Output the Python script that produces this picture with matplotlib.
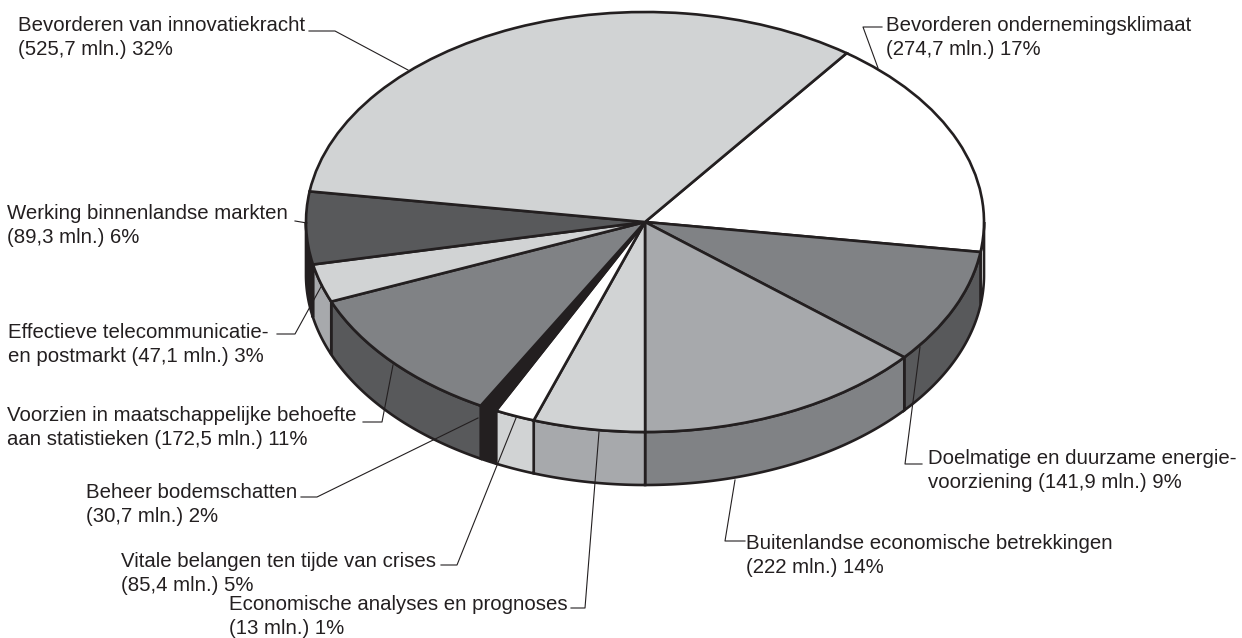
import matplotlib
matplotlib.use('Agg')
import matplotlib.pyplot as plt
import numpy as np

plt.rcParams['font.family'] = ['Liberation Sans', 'DejaVu Sans']

# slices clockwise, as they sit in the pie
values = [274.7, 141.9, 222, 85.4, 30.7, 13, 172.5, 47.1, 89.3, 525.7]
top_colors = ['#ffffff', '#808285', '#a7a9ac', '#d1d3d4', '#ffffff',
              '#231f20', '#808285', '#d1d3d4', '#58595b', '#d1d3d4']
side_colors = ['#ffffff', '#58595b', '#808285', '#a7a9ac', '#d1d3d4',
               '#231f20', '#58595b', '#a7a9ac', '#231f20', '#d1d3d4']

labels = ['Bevorderen van innovatiekracht\n(525,7 mln.) 32%',
          'Bevorderen ondernemingsklimaat\n(274,7 mln.) 17%',
          'Werking binnenlandse markten\n(89,3 mln.) 6%',
          'Effectieve telecommunicatie-\nen postmarkt (47,1 mln.) 3%',
          'Voorzien in maatschappelijke behoefte\naan statistieken (172,5 mln.) 11%',
          'Beheer bodemschatten\n(30,7 mln.) 2%',
          'Vitale belangen ten tijde van crises\n(85,4 mln.) 5%',
          'Economische analyses en prognoses\n(13 mln.) 1%',
          'Buitenlandse economische betrekkingen\n(222 mln.) 14%',
          'Doelmatige en duurzame energie-\nvoorziening (141,9 mln.) 9%']
label_pos = [(18, 16), (886, 16), (7, 204), (8, 323), (7, 406),
             (86, 483), (121, 552), (229, 595), (746, 534), (928, 449)]
leaders = [[(309, 31), (335, 31), (408, 70)],
           [(882, 27), (863, 27), (878, 68)],
           [(295, 221), (307, 223)],
           [(277, 334), (295, 334), (322, 285)],
           [(363, 422), (382, 422), (393, 365)],
           [(301, 497), (317, 497), (478, 418)],
           [(441, 565), (457, 565), (516, 418)],
           [(571, 608), (585, 608), (599, 432)],
           [(745, 541), (725, 541), (735, 480)],
           [(922, 464), (905, 464), (920, 347)]]

ink = '#231f20'
W, H = 1242, 638
cx, cy, rx, ry = 645, 222, 339, 210
depth = 53 / ry
start = 53.5

fig = plt.figure(figsize=(W / 100, H / 100), dpi=100)
ax = fig.add_axes([0, 0, 1, 1])
ax.pie(values, colors=top_colors, startangle=start, counterclock=False, radius=1,
       wedgeprops={'edgecolor': ink, 'linewidth': 1.9, 'zorder': 5})
ax.set_aspect('auto')
ax.set_xlim(-cx / rx, (W - cx) / rx)
ax.set_ylim((cy - H) / ry, cy / ry)

# rim of the disc, only the front half shows
edges = start - np.cumsum([0] + values) / sum(values) * 360
for hi, lo, c in zip(edges[:-1], edges[1:], side_colors):
    for shift in (0, 360):
        a, b = max(lo + shift, -180), min(hi + shift, 0)
        if a >= b:
            continue
        t = np.radians(np.linspace(a, b, 80))
        xs = np.r_[np.cos(t), np.cos(t[::-1])]
        ys = np.r_[np.sin(t), np.sin(t[::-1]) - depth]
        ax.fill(xs, ys, facecolor=c, edgecolor=ink, linewidth=1.9, zorder=2)

over = fig.add_axes([0, 0, 1, 1])
over.set_xlim(0, W)
over.set_ylim(H, 0)
over.axis('off')
over.patch.set_alpha(0)

for pts in leaders:
    pts = np.array(pts)
    over.plot(pts[:, 0], pts[:, 1], color=ink, lw=0.8)

for txt, (x, y) in zip(labels, label_pos):
    over.text(x, y, txt, fontsize=14.7, color=ink, va='top', ha='left', linespacing=1.31)

fig.savefig('out.png', dpi=100)
